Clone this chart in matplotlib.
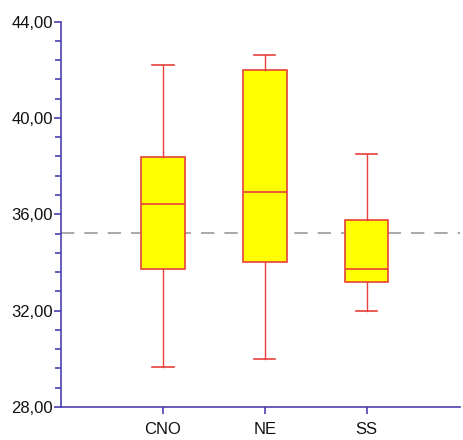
import matplotlib
matplotlib.use("Agg")
import matplotlib.pyplot as plt
from matplotlib.ticker import MultipleLocator, FuncFormatter

categories = ["CNO", "NE", "SS"]
whislo = [29.67, 29.98, 31.99]
q1 = [33.72, 34.00, 33.18]
med = [36.42, 36.94, 33.73]
q3 = [38.38, 42.00, 35.78]
whishi = [42.20, 42.62, 38.49]
ref_line = 35.24

plt.rcParams['font.family'] = ['Liberation Sans', 'DejaVu Sans']

fig = plt.figure(figsize=(4.63, 4.40), dpi=100)
ax = fig.add_axes([0.132, 0.075, 0.862, 0.876])

stats = []
for i, c in enumerate(categories):
    stats.append(dict(label=c, whislo=whislo[i], q1=q1[i], med=med[i],
                      q3=q3[i], whishi=whishi[i], fliers=[]))

red = '#e8403a'
ax.bxp(stats, positions=[1, 2, 3], widths=0.43, patch_artist=True,
       showfliers=False,
       boxprops=dict(facecolor='#ffff00', edgecolor=red, linewidth=1.2),
       medianprops=dict(color=red, linewidth=1.2),
       whiskerprops=dict(color=red, linewidth=1.0),
       capprops=dict(color=red, linewidth=1.2),
       capwidths=0.21)

ax.axhline(ref_line, color='#999999', linewidth=1.2, linestyle=(0, (8, 6)), zorder=0)

ax.set_ylim(28, 44)
ax.set_xlim(0, 3.92)
axis_color = '#4b3fb0'
for s in ['top', 'right']:
    ax.spines[s].set_visible(False)
for s in ['left', 'bottom']:
    ax.spines[s].set_color(axis_color)
    ax.spines[s].set_linewidth(1.2)

ax.yaxis.set_major_locator(MultipleLocator(4))
ax.yaxis.set_minor_locator(MultipleLocator(0.8))
ax.yaxis.set_major_formatter(FuncFormatter(lambda v, p: f"{v:.2f}".replace('.', ',')))
ax.tick_params(axis='y', which='major', length=5, width=1.2, color=axis_color,
               labelsize=12, labelcolor='#111111', pad=1)
ax.tick_params(axis='y', which='minor', length=4, width=1.2, color=axis_color)
ax.set_xticks([1, 2, 3])
ax.set_xticklabels(categories)
ax.tick_params(axis='x', length=5, width=1.2, color=axis_color,
               labelsize=12, labelcolor='#111111', pad=6)

fig.savefig("out.png", dpi=100)
